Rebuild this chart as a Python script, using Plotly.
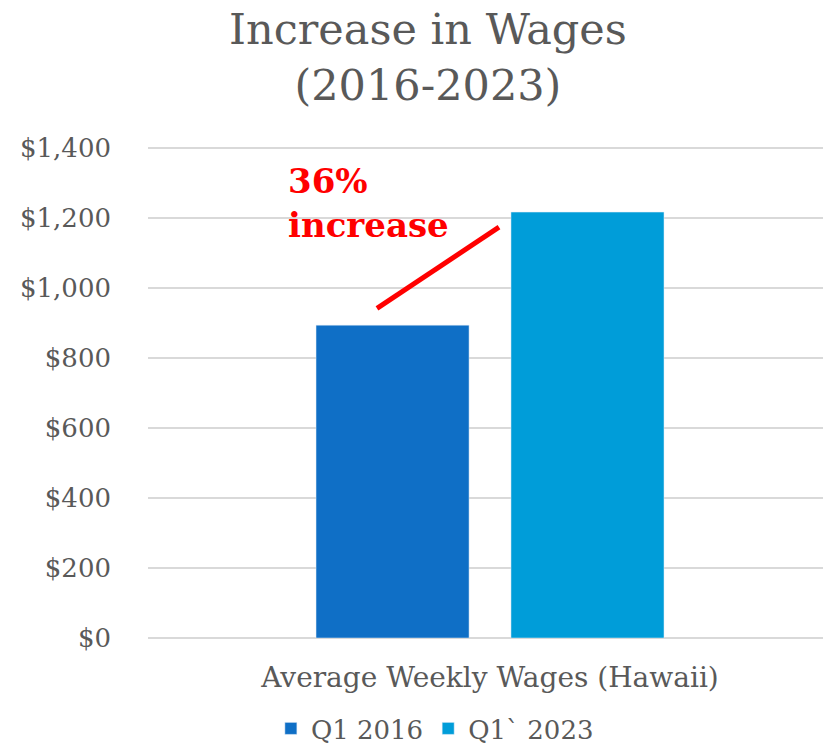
import plotly.graph_objects as go

categories = ["Average Weekly Wages (Hawaii)"]
series_names = ["Q1 2016", "Q1` 2023"]
wages_2016 = [894]
wages_2023 = [1217]
tick_vals = [0, 200, 400, 600, 800, 1000, 1200, 1400]
tick_text = ["$0", "$200", "$400", "$600", "$800", "$1,000", "$1,200", "$1,400"]
colors = ["#0F6FC6", "#009DD9"]

FONT = "DejaVu Serif"
GREY = "#595959"

fig = go.Figure()
fig.add_trace(go.Bar(x=categories, y=wages_2016, name=series_names[0], marker_color=colors[0]))
fig.add_trace(go.Bar(x=categories, y=wages_2023, name=series_names[1], marker_color=colors[1]))

fig.update_layout(
    width=823, height=752,
    paper_bgcolor="white", plot_bgcolor="white",
    margin=dict(l=148, r=0, t=147, b=114),
    barmode="group", bargap=0.43, bargroupgap=0.215,
    font=dict(family=FONT, color=GREY),
    showlegend=True,
    legend=dict(orientation="h", x=0.425, xanchor="center",
                yref="container", y=-0.009, yanchor="bottom",
                font=dict(family=FONT, size=26, color=GREY), traceorder="normal",
                itemwidth=30),
    xaxis=dict(type="category", range=[-0.5, 0.4868], showgrid=False, showline=False,
               tickfont=dict(family=FONT, size=28, color=GREY), ticks="", ticklabelstandoff=20),
    yaxis=dict(range=[0, 1403], tickvals=tick_vals, ticktext=tick_text,
               showgrid=True, gridcolor="#D9D9D9", gridwidth=2,
               zeroline=True, zerolinecolor="#D9D9D9", zerolinewidth=2,
               tickfont=dict(family=FONT, size=26, color=GREY), ticklabelstandoff=36),
)

# chart title (as annotation for exact placement)
fig.add_annotation(text="Increase in Wages<br>(2016-2023)", xref="paper", yref="paper",
                   x=(428 - 148) / 675, y=(638 - 58) / 490, xanchor="center", yanchor="middle",
                   showarrow=False, align="center",
                   font=dict(family=FONT, size=43, color=GREY))

fig.add_annotation(text="<b>36%<br>increase</b>", xref="paper", yref="paper",
                   x=(286 - 148) / 675, y=(638 - 160) / 490, xanchor="left", yanchor="top",
                   align="left", showarrow=False,
                   font=dict(family=FONT, size=34, color="#FF0000"))
fig.add_shape(type="line", xref="paper", yref="paper",
              x0=(377 - 148) / 675, y0=(638 - 309) / 490,
              x1=(499 - 148) / 675, y1=(638 - 228) / 490,
              line=dict(color="#FF0000", width=5))

fig.write_html("out.html", config={"responsive": False, "displayModeBar": False},
               post_script="document.body.style.margin='0';document.body.style.overflow='hidden';")
